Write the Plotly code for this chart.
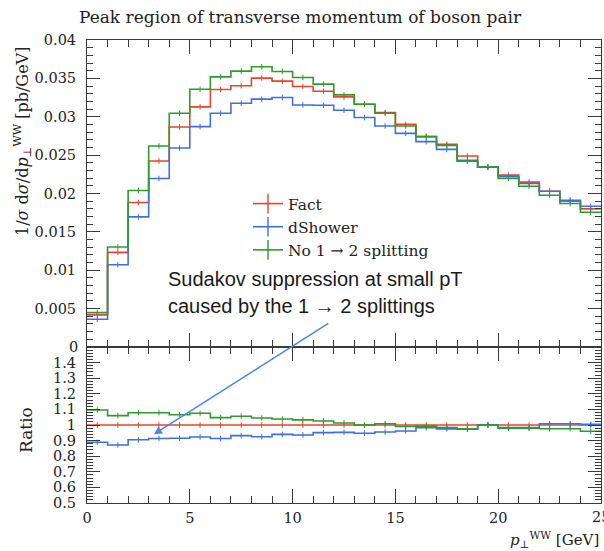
import plotly.graph_objects as go

# ---------------- data ----------------
bin_edges = list(range(0, 26))  # pT^WW bins [GeV]

fact = [0.00418, 0.01233, 0.01882, 0.02423, 0.02867, 0.03129, 0.03355, 0.03403,
        0.03503, 0.03464, 0.03395, 0.03333, 0.03259, 0.03163, 0.03055, 0.02900,
        0.02741, 0.02640, 0.02488, 0.02344, 0.02239, 0.02148, 0.02030, 0.01900,
        0.01800]
dshower = [0.00362, 0.01072, 0.01695, 0.02196, 0.02593, 0.02871, 0.03046, 0.03176,
           0.03229, 0.03251, 0.03154, 0.03150, 0.03085, 0.02990, 0.02880, 0.02784,
           0.02676, 0.02575, 0.02431, 0.02344, 0.02218, 0.02130, 0.02030, 0.01913,
           0.01834]
no12 = [0.00448, 0.01303, 0.02040, 0.02619, 0.03046, 0.03359, 0.03520, 0.03595,
        0.03651, 0.03590, 0.03512, 0.03425, 0.03285, 0.03163, 0.03046, 0.02880,
        0.02741, 0.02627, 0.02422, 0.02344, 0.02196, 0.02095, 0.01978, 0.01869,
        0.01756]

ratio_fact = [1.0] * 25
ratio_dshower = [0.889, 0.872, 0.905, 0.913, 0.915, 0.923, 0.913, 0.932, 0.925, 0.940,
                 0.936, 0.951, 0.953, 0.947, 0.955, 0.962, 0.983, 0.975, 0.973, 1.000,
                 0.983, 0.983, 1.008, 1.008, 1.004]
ratio_no12 = [1.096, 1.060, 1.079, 1.079, 1.066, 1.075, 1.047, 1.056, 1.045, 1.038,
              1.033, 1.026, 1.013, 0.999, 1.008, 0.990, 0.993, 0.984, 0.975, 1.000,
              0.980, 0.980, 0.976, 0.976, 0.960]

series_names = ["Fact", "dShower", "No 1 \u2192 2 splitting"]
series_colors = ["#e8452c", "#3f6fe0", "#2f9a30"]

top_ticks = [0, 0.005, 0.01, 0.015, 0.02, 0.025, 0.03, 0.035, 0.04]
top_ticktext = ["0", "0.005", "0.01", "0.015", "0.02", "0.025", "0.03", "0.035", "0.04"]
ratio_ticks = [0.5, 0.6, 0.7, 0.8, 0.9, 1.0, 1.1, 1.2, 1.3, 1.4]
ratio_ticktext = ["0.5", "0.6", "0.7", "0.8", "0.9", "1", "1.1", "1.2", "1.3", "1.4"]
x_ticks = [0, 5, 10, 15, 20, 25]
x_ticktext = ["0", "5", "10", "15", "20", "25"]

# ---------------- figure ----------------
W, H = 604, 551
ML, MR, MT, MB = 87, 3, 40, 48
plot_w = W - ML - MR
plot_h = H - MT - MB
split = (503 - 347) / plot_h

SERIF = "DejaVu Serif"
SANS = "Liberation Sans"
FRAME = "#3a3a3a"
TXT = "#222222"
TICKFONT = dict(family=SERIF, size=14.5, color=TXT)

fig = go.Figure()

centers = [(bin_edges[i] + bin_edges[i + 1]) / 2 for i in range(len(bin_edges) - 1)]

def step(vals):
    return list(bin_edges), list(vals) + [vals[-1]]

top_series = [fact, dshower, no12]
ratio_series = [ratio_fact, ratio_dshower, ratio_no12]

for name, col, vals, rvals in zip(series_names, series_colors, top_series, ratio_series):
    sx, sy = step(vals)
    fig.add_trace(go.Scatter(x=sx, y=sy, mode="lines", line=dict(color=col, width=1.6, shape="hv"),
                             showlegend=False, xaxis="x", yaxis="y", hoverinfo="skip"))
    fig.add_trace(go.Scatter(x=centers, y=vals, mode="markers",
                             marker=dict(symbol="line-ns-open", size=4, color=col, line=dict(width=1, color=col)),
                             showlegend=False, xaxis="x", yaxis="y", hoverinfo="skip"))
    rx, ry = step(rvals)
    fig.add_trace(go.Scatter(x=rx, y=ry, mode="lines", line=dict(color=col, width=1.6, shape="hv"),
                             showlegend=False, xaxis="x2", yaxis="y2", hoverinfo="skip"))
    fig.add_trace(go.Scatter(x=centers, y=rvals, mode="markers",
                             marker=dict(symbol="line-ns-open", size=4, color=col, line=dict(width=1, color=col)),
                             showlegend=False, xaxis="x2", yaxis="y2", hoverinfo="skip"))

# legend entries
for name, col in zip(series_names, series_colors):
    fig.add_trace(go.Scatter(x=[None], y=[None], mode="lines+markers", name=name,
                             line=dict(color=col, width=1.6),
                             marker=dict(symbol="line-ns-open", size=14, color=col, line=dict(width=1.4, color=col)),
                             xaxis="x", yaxis="y"))

axis_common = dict(showline=True, linecolor=FRAME, linewidth=1, mirror="ticks",
                   ticks="inside", tickcolor=FRAME, showgrid=False, zeroline=False)

fig.update_layout(
    width=W, height=H,
    margin=dict(l=ML, r=MR, t=MT, b=MB, autoexpand=False),
    paper_bgcolor="white", plot_bgcolor="white",
    font=dict(family=SERIF, color=TXT, size=14),
    xaxis=dict(domain=[0, 1], anchor="y", range=[0, 25], tickvals=x_ticks, showticklabels=False,
               ticklen=14, minor=dict(dtick=1, ticklen=7, ticks="inside", tickcolor=FRAME),
               matches="x2", **axis_common),
    yaxis=dict(domain=[split, 1], anchor="x", range=[0, 0.04], tickvals=top_ticks[1:], ticktext=top_ticktext[1:],
               ticklen=13, minor=dict(dtick=0.001, ticklen=6, ticks="inside", tickcolor=FRAME),
               tickfont=TICKFONT, ticklabelstandoff=7, **axis_common),
    xaxis2=dict(domain=[0, 1], anchor="y2", range=[0, 25], tickvals=x_ticks[:-1], ticktext=x_ticktext[:-1],
                ticklen=14, minor=dict(dtick=1, ticklen=7, ticks="inside", tickcolor=FRAME),
                tickfont=TICKFONT, ticklabelstandoff=2, **axis_common),
    yaxis2=dict(domain=[0, split], anchor="x2", range=[0.5, 1.5], tickvals=ratio_ticks, ticktext=ratio_ticktext,
                ticklen=13, minor=dict(dtick=0.02, ticklen=6, ticks="inside", tickcolor=FRAME),
                tickfont=TICKFONT, ticklabelstandoff=7, **axis_common),
    legend=dict(x=(248 - ML) / plot_w, y=1 - (187 - MT) / plot_h, xanchor="left", yanchor="top",
                bgcolor="rgba(0,0,0,0)", font=dict(family=SERIF, size=15.5, color=TXT),
                tracegroupgap=0, itemwidth=30),
    showlegend=True,
)

def px_to_paper(px, py):
    return (px - ML) / plot_w, 1 - (py - MT) / plot_h

annots = []
# title
tx, ty = px_to_paper(77, 17)
annots.append(dict(text="Peak region of transverse momentum of boson pair", x=tx, y=ty, xref="paper", yref="paper",
                   xanchor="left", yanchor="middle", showarrow=False, font=dict(family=SERIF, size=17, color=TXT)))
# edge tick labels (plotly drops labels sitting on the range ends)
zx, zy = px_to_paper(80, 347)
annots.append(dict(text=top_ticktext[0], x=zx, y=zy, xref="paper", yref="paper", xanchor="right", yanchor="middle",
                   showarrow=False, font=TICKFONT))
annots.append(dict(text=x_ticktext[-1], x=x_ticks[-1], y=0.5, xref="x2", yref="y2", xanchor="center", yanchor="top",
                   yshift=-4, showarrow=False, font=TICKFONT))
# y title (top panel)
yx, yy = px_to_paper(22, 142)
annots.append(dict(text="1/<i>\u03c3</i> d<i>\u03c3</i>/d<i>p</i><sub>\u22a5</sub><sup>WW</sup> [pb/GeV]",
                   x=yx, y=yy, xref="paper", yref="paper", xanchor="center", yanchor="middle",
                   textangle=-90, showarrow=False, font=dict(family=SERIF, size=16, color=TXT)))
# ratio title
rx_, ry_ = px_to_paper(26, 430)
annots.append(dict(text="Ratio", x=rx_, y=ry_, xref="paper", yref="paper", xanchor="center", yanchor="middle",
                   textangle=-90, showarrow=False, font=dict(family=SERIF, size=17, color=TXT)))
# x title
xx, xy = px_to_paper(601, 539)
annots.append(dict(text="<i>p</i><sub>\u22a5</sub><sup>WW</sup> [GeV]", x=xx, y=xy, xref="paper", yref="paper",
                   xanchor="right", yanchor="middle", showarrow=False, font=dict(family=SERIF, size=15, color=TXT)))
# Sudakov note
for txt, py in [("Sudakov suppression at small pT", 279), ("caused by the 1 \u2192 2 splittings", 306)]:
    nx, ny = px_to_paper(166, py)
    annots.append(dict(text=txt, x=nx, y=ny, xref="paper", yref="paper", xanchor="left", yanchor="middle",
                       showarrow=False, font=dict(family=SANS, size=20, color="#1a1a1a")))
# arrow
annots.append(dict(text="", x=3.25, y=0.94, xref="x2", yref="y2", showarrow=True,
                   ax=176, ay=-112, axref="pixel", ayref="pixel",
                   arrowcolor="#4a86e8", arrowwidth=1.5, arrowhead=2, arrowsize=1.1, standoff=0, startstandoff=0))

fig.update_layout(annotations=annots)

fig.write_html("out.html")
